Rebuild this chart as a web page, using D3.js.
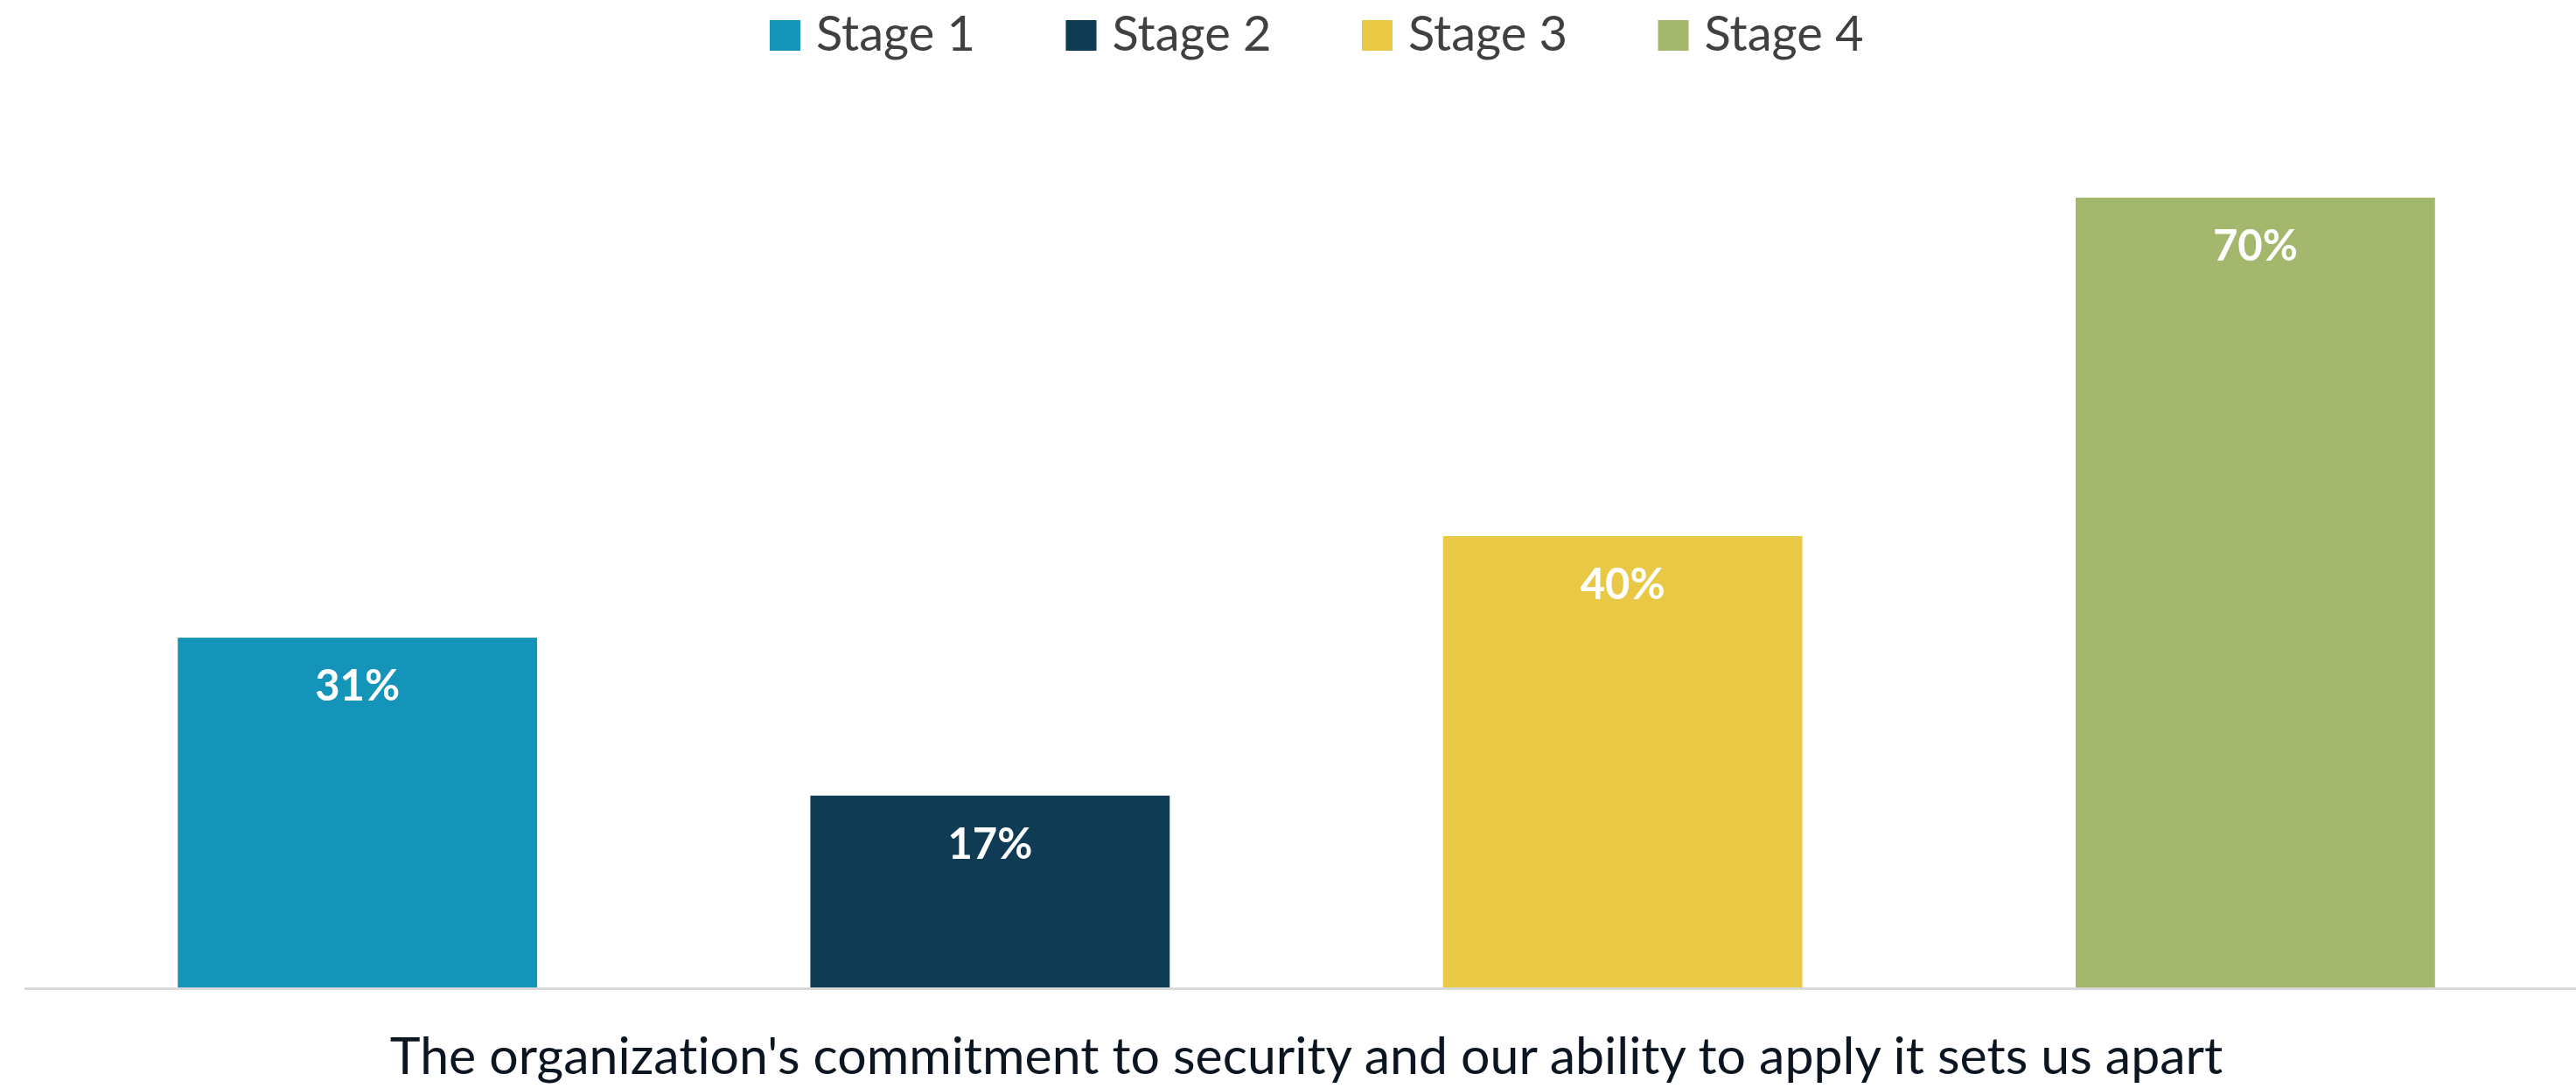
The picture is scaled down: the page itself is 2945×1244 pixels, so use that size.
<!DOCTYPE html>
<head>
    <meta charset="utf-8">
    <title>Stages</title>
</head>
<script src="https://d3js.org/d3.v7.min.js"></script>

<div id="graph"></div>

<script>
    // data
    var stages = ["Stage 1", "Stage 2", "Stage 3", "Stage 4"];
    var values = [31, 17, 40, 70];
    var colors = ["#1594ba", "#0f3c54", "#e9c846", "#a3b86c"];
    var caption = "The organization's commitment to security and our ability to apply it sets us apart";

    var width = 2945,
        height = 1244;

    var svg = d3.select("#graph")
        .append("svg")
            .attr("width", width)
            .attr("height", height);

    var x = d3.scaleBand()
        .domain(stages)
        .range([47, 2940])
        .paddingInner(0.432)
        .paddingOuter(0.216);

    var y = d3.scaleLinear()
        .domain([0, 70])
        .range([1129, 226]);

    var color = d3.scaleOrdinal()
        .domain(stages)
        .range(colors);

    var data = stages.map(function(s, i) { return {stage: s, value: values[i]}; });

    //bars
    svg.selectAll("mybar")
        .data(data)
        .enter()
        .append("rect")
            .attr("x", function(d) { return x(d.stage); })
            .attr("y", function(d) { return y(d.value); })
            .attr("width", x.bandwidth())
            .attr("height", function(d) { return y(0) - y(d.value); })
            .attr("fill", function(d) { return color(d.stage); });

    //value labels inside bars
    svg.selectAll("mylabel")
        .data(data)
        .enter()
        .append("text")
            .attr("x", function(d) { return x(d.stage) + x.bandwidth() / 2; })
            .attr("y", function(d) { return y(d.value) + 72; })
            .attr("text-anchor", "middle")
            .attr("class", "barlabel")
            .text(function(d) { return d.value + "%"; });

    //baseline
    svg.append("line")
        .attr("x1", 28)
        .attr("x2", width)
        .attr("y1", y(0) + 1.5)
        .attr("y2", y(0) + 1.5)
        .attr("stroke", "#d9d9d9")
        .attr("stroke-width", 3);

    //category caption
    svg.append("text")
        .attr("x", (x.range()[0] + x.range()[1]) / 2)
        .attr("y", 1228)
        .attr("text-anchor", "middle")
        .attr("class", "caption")
        .text(caption);

    //legend
    var legend = svg.selectAll("mylegend")
        .data(stages)
        .enter()
        .append("g")
            .attr("transform", function(d, i) { return "translate(" + (880 + i * 338.5) + ",23)"; });

    legend.append("rect")
        .attr("width", 35)
        .attr("height", 35)
        .attr("fill", function(d) { return color(d); });

    legend.append("text")
        .attr("x", 53)
        .attr("y", 35)
        .attr("class", "legendtext")
        .text(function(d) { return d; });
</script>

<style>
    html, body {
        margin: 0;
        padding: 0;
        background-color: white;
    }
    text {
        font-family: Lato, sans-serif;
        font-variant-ligatures: none;
    }
    .barlabel {
        fill: #ffffff;
        font-weight: bold;
        font-size: 49px;
    }
    .caption {
        fill: #0b1622;
        font-size: 59px;
    }
    .legendtext {
        fill: #404040;
        font-size: 56px;
    }
</style>
